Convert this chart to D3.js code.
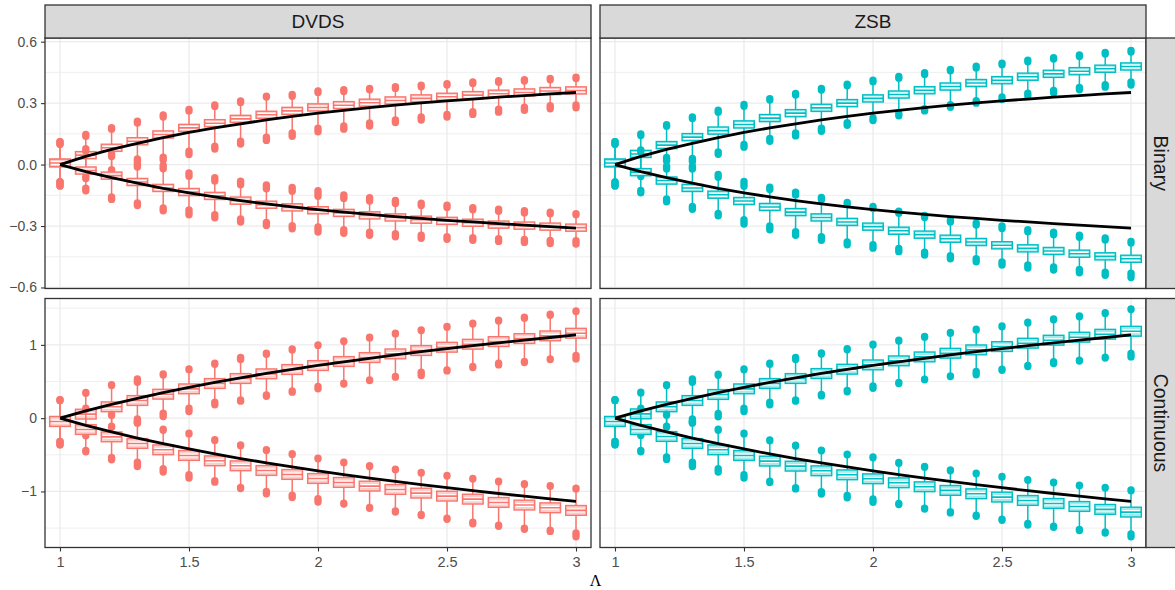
<!DOCTYPE html>
<html><head><meta charset="utf-8">
<script src="https://cdn.jsdelivr.net/npm/d3@7"></script>
<style>body{margin:0;background:#fff}svg{display:block}</style>
</head><body>
<svg id="chart" width="1175" height="590"></svg>
<script>
// ---------------- data ----------------
const lambdas = [1.0,1.1,1.2,1.3,1.4,1.5,1.6,1.7,1.8,1.9,2.0,2.1,2.2,2.3,2.4,2.5,2.6,2.7,2.8,2.9,3.0];
const methods = ["DVDS","ZSB"];
const outcomes = ["Binary","Continuous"];
const methodColors = ["#F8766D","#00BFC4"];
const xTicks = [1,1.5,2,2.5,3];
const xTickLabels = ["1","1.5","2","2.5","3"];
const yTicksBinary = [-0.6,-0.3,0,0.3,0.6];
const yTickLabelsBinary = ["\u22120.6","\u22120.3","0.0","0.3","0.6"];
const yMinorBinary = [-0.45,-0.15,0.15,0.45];
const yTicksContinuous = [-1,0,1];
const yTickLabelsContinuous = ["\u22121","0","1"];
const yMinorContinuous = [-1.5,-0.5,0.5,1.5];
const xAxisTitle = "\u039B";

// true bound curves (black lines)
const trueBinaryUpper = [0,0.040,0.074,0.104,0.132,0.157,0.179,0.199,0.218,0.235,0.251,0.265,0.278,0.290,0.301,0.311,0.320,0.329,0.337,0.345,0.352];
const trueBinaryLower = [0,-0.034,-0.064,-0.091,-0.116,-0.138,-0.158,-0.176,-0.192,-0.207,-0.220,-0.232,-0.243,-0.254,-0.263,-0.272,-0.280,-0.288,-0.296,-0.303,-0.310];
const trueContUpper = [0,0.099,0.188,0.271,0.348,0.420,0.488,0.551,0.610,0.666,0.719,0.769,0.817,0.863,0.907,0.949,0.989,1.028,1.065,1.101,1.136];
const trueContLower = [0,-0.099,-0.188,-0.271,-0.348,-0.420,-0.488,-0.551,-0.610,-0.666,-0.719,-0.769,-0.817,-0.863,-0.907,-0.949,-0.989,-1.028,-1.065,-1.101,-1.136];

// boxes: [lowest outlier, lower whisker end, q1, median, q3, upper whisker end, highest outlier]
const dvdsBinaryUpper = [
[-0.104,-0.083,-0.008,0.008,0.024,0.099,0.112],[-0.068,-0.058,0.031,0.046,0.061,0.138,0.147],
[-0.038,-0.025,0.067,0.082,0.097,0.172,0.180],[-0.012,0.002,0.099,0.114,0.129,0.203,0.212],
[0.022,0.036,0.132,0.147,0.162,0.232,0.242],[0.049,0.065,0.164,0.179,0.194,0.262,0.269],
[0.076,0.090,0.187,0.202,0.217,0.284,0.291],[0.100,0.114,0.208,0.223,0.238,0.303,0.311],
[0.118,0.134,0.228,0.243,0.258,0.330,0.334],[0.138,0.155,0.247,0.262,0.277,0.333,0.342],
[0.160,0.178,0.264,0.279,0.294,0.352,0.360],[0.173,0.188,0.275,0.290,0.305,0.357,0.365],
[0.188,0.203,0.287,0.302,0.317,0.365,0.372],[0.205,0.218,0.298,0.313,0.328,0.372,0.380],
[0.218,0.232,0.308,0.323,0.338,0.380,0.388],[0.232,0.245,0.316,0.331,0.346,0.388,0.395],
[0.245,0.258,0.324,0.339,0.354,0.396,0.404],[0.256,0.270,0.331,0.346,0.361,0.402,0.409],
[0.265,0.280,0.337,0.352,0.367,0.408,0.415],[0.272,0.287,0.344,0.359,0.374,0.414,0.420],
[0.277,0.291,0.347,0.362,0.377,0.420,0.427]];
const dvdsBinaryLower = [
[-0.104,-0.083,-0.008,0.008,0.024,0.099,0.112],[-0.128,-0.115,-0.044,-0.029,-0.014,0.066,0.078],
[-0.170,-0.158,-0.069,-0.054,-0.039,0.040,0.053],[-0.200,-0.187,-0.100,-0.085,-0.070,0.012,0.028],
[-0.226,-0.212,-0.129,-0.114,-0.099,-0.020,-0.004],[-0.245,-0.222,-0.149,-0.134,-0.119,-0.057,-0.041],
[-0.260,-0.245,-0.168,-0.153,-0.138,-0.080,-0.064],[-0.280,-0.265,-0.191,-0.176,-0.161,-0.098,-0.081],
[-0.298,-0.282,-0.211,-0.196,-0.181,-0.118,-0.100],[-0.313,-0.298,-0.224,-0.209,-0.194,-0.130,-0.112],
[-0.329,-0.305,-0.238,-0.223,-0.208,-0.155,-0.127],[-0.335,-0.318,-0.251,-0.236,-0.221,-0.165,-0.148],
[-0.345,-0.330,-0.263,-0.248,-0.233,-0.178,-0.162],[-0.352,-0.338,-0.273,-0.258,-0.243,-0.190,-0.175],
[-0.360,-0.345,-0.284,-0.269,-0.254,-0.200,-0.188],[-0.365,-0.352,-0.290,-0.275,-0.260,-0.210,-0.198],
[-0.370,-0.357,-0.299,-0.284,-0.269,-0.220,-0.210],[-0.375,-0.362,-0.308,-0.293,-0.278,-0.228,-0.218],
[-0.380,-0.366,-0.313,-0.298,-0.283,-0.236,-0.225],[-0.385,-0.370,-0.318,-0.303,-0.288,-0.240,-0.232],
[-0.388,-0.372,-0.323,-0.308,-0.293,-0.245,-0.240]];
const zsbBinaryUpper = [
[-0.104,-0.085,-0.008,0.008,0.024,0.099,0.112],[-0.058,-0.046,0.037,0.052,0.067,0.142,0.150],
[-0.022,-0.008,0.080,0.095,0.110,0.187,0.195],[0.015,0.030,0.119,0.134,0.149,0.225,0.233],
[0.050,0.062,0.151,0.166,0.181,0.256,0.265],[0.085,0.098,0.181,0.196,0.211,0.285,0.293],
[0.114,0.128,0.212,0.227,0.242,0.315,0.322],[0.140,0.155,0.236,0.251,0.266,0.340,0.347],
[0.163,0.178,0.262,0.277,0.292,0.364,0.372],[0.192,0.205,0.285,0.300,0.315,0.385,0.392],
[0.215,0.228,0.308,0.323,0.338,0.405,0.412],[0.238,0.250,0.327,0.342,0.357,0.422,0.430],
[0.262,0.273,0.348,0.363,0.378,0.440,0.448],[0.280,0.292,0.366,0.381,0.396,0.458,0.465],
[0.300,0.312,0.383,0.398,0.413,0.472,0.480],[0.318,0.330,0.397,0.412,0.427,0.488,0.495],
[0.335,0.348,0.414,0.429,0.444,0.502,0.510],[0.350,0.362,0.428,0.443,0.458,0.515,0.522],
[0.365,0.376,0.441,0.456,0.471,0.528,0.535],[0.378,0.390,0.453,0.468,0.483,0.540,0.548],
[0.388,0.404,0.464,0.479,0.494,0.550,0.557]];
const zsbBinaryLower = [
[-0.104,-0.085,-0.008,0.008,0.024,0.099,0.112],[-0.138,-0.126,-0.052,-0.037,-0.022,0.060,0.072],
[-0.182,-0.168,-0.093,-0.078,-0.063,0.018,0.035],[-0.218,-0.205,-0.129,-0.114,-0.099,-0.022,-0.008],
[-0.250,-0.238,-0.162,-0.147,-0.132,-0.062,-0.048],[-0.290,-0.269,-0.193,-0.178,-0.163,-0.106,-0.082],
[-0.318,-0.300,-0.222,-0.207,-0.192,-0.122,-0.110],[-0.345,-0.328,-0.247,-0.232,-0.217,-0.148,-0.135],
[-0.370,-0.352,-0.273,-0.258,-0.243,-0.172,-0.160],[-0.392,-0.378,-0.295,-0.280,-0.265,-0.195,-0.185],
[-0.408,-0.391,-0.318,-0.303,-0.288,-0.215,-0.205],[-0.425,-0.410,-0.338,-0.323,-0.308,-0.238,-0.228],
[-0.442,-0.428,-0.357,-0.342,-0.327,-0.258,-0.248],[-0.460,-0.445,-0.377,-0.362,-0.347,-0.280,-0.270],
[-0.475,-0.460,-0.393,-0.378,-0.363,-0.295,-0.285],[-0.490,-0.475,-0.409,-0.394,-0.379,-0.312,-0.300],
[-0.505,-0.490,-0.424,-0.409,-0.394,-0.328,-0.318],[-0.515,-0.500,-0.437,-0.422,-0.407,-0.342,-0.330],
[-0.528,-0.512,-0.450,-0.435,-0.420,-0.355,-0.345],[-0.540,-0.525,-0.463,-0.448,-0.433,-0.368,-0.358],
[-0.551,-0.530,-0.475,-0.460,-0.445,-0.383,-0.375]];
const dvdsContinuousUpper = [
[-0.364,-0.318,-0.105,-0.045,0.015,0.240,0.252],[-0.240,-0.220,-0.005,0.055,0.115,0.340,0.350],
[-0.125,-0.110,0.095,0.155,0.215,0.445,0.455],[-0.068,-0.010,0.181,0.241,0.301,0.490,0.536],
[0.023,0.068,0.267,0.327,0.387,0.590,0.605],[0.091,0.136,0.340,0.400,0.460,0.660,0.673],
[0.182,0.218,0.413,0.473,0.533,0.735,0.750],[0.232,0.250,0.481,0.541,0.601,0.800,0.827],
[0.300,0.318,0.545,0.605,0.665,0.872,0.886],[0.355,0.373,0.604,0.664,0.724,0.930,0.945],
[0.400,0.432,0.658,0.718,0.778,0.990,1.000],[0.465,0.477,0.713,0.773,0.833,1.045,1.055],
[0.515,0.523,0.767,0.827,0.887,1.095,1.105],[0.560,0.568,0.817,0.877,0.937,1.150,1.159],
[0.582,0.627,0.863,0.923,0.983,1.195,1.205],[0.645,0.659,0.908,0.968,1.028,1.240,1.250],
[0.690,0.705,0.949,1.009,1.069,1.285,1.295],[0.727,0.750,0.985,1.045,1.105,1.325,1.336],
[0.760,0.773,1.026,1.086,1.146,1.365,1.377],[0.800,0.809,1.063,1.123,1.183,1.405,1.418],
[0.809,0.855,1.099,1.159,1.219,1.455,1.464]];
const dvdsContinuousLower = [
[-0.364,-0.318,-0.105,-0.045,0.015,0.240,0.252],[-0.460,-0.440,-0.215,-0.155,-0.095,0.120,0.136],
[-0.568,-0.536,-0.315,-0.255,-0.195,0.035,0.050],[-0.659,-0.600,-0.405,-0.345,-0.285,-0.060,-0.045],
[-0.736,-0.690,-0.492,-0.432,-0.372,-0.165,-0.150],[-0.818,-0.773,-0.569,-0.509,-0.449,-0.215,-0.205],
[-0.873,-0.855,-0.642,-0.582,-0.522,-0.305,-0.295],[-0.960,-0.945,-0.710,-0.650,-0.590,-0.375,-0.364],
[-1.032,-1.000,-0.774,-0.714,-0.654,-0.440,-0.432],[-1.082,-1.050,-0.828,-0.768,-0.708,-0.495,-0.486],
[-1.145,-1.100,-0.883,-0.823,-0.763,-0.555,-0.545],[-1.173,-1.160,-0.937,-0.877,-0.817,-0.610,-0.600],
[-1.230,-1.218,-0.987,-0.927,-0.867,-0.660,-0.650],[-1.280,-1.265,-1.033,-0.973,-0.913,-0.705,-0.695],
[-1.330,-1.315,-1.083,-1.023,-0.963,-0.750,-0.741],[-1.380,-1.365,-1.124,-1.064,-1.004,-0.790,-0.782],
[-1.440,-1.420,-1.165,-1.105,-1.045,-0.830,-0.823],[-1.475,-1.460,-1.210,-1.150,-1.090,-0.868,-0.859],
[-1.515,-1.500,-1.246,-1.186,-1.126,-0.905,-0.895],[-1.545,-1.530,-1.283,-1.223,-1.163,-0.930,-0.923],
[-1.618,-1.568,-1.319,-1.259,-1.199,-0.965,-0.955]];
const zsbContinuousUpper = [
[-0.364,-0.318,-0.105,-0.045,0.015,0.240,0.252],[-0.236,-0.216,-0.001,0.059,0.119,0.344,0.354],
[-0.125,-0.110,0.095,0.155,0.215,0.445,0.455],[-0.068,-0.010,0.181,0.241,0.301,0.490,0.536],
[0.019,0.064,0.263,0.323,0.383,0.586,0.601],[0.091,0.136,0.340,0.400,0.460,0.660,0.673],
[0.182,0.218,0.413,0.473,0.533,0.735,0.750],[0.232,0.250,0.481,0.541,0.601,0.800,0.827],
[0.304,0.322,0.549,0.609,0.669,0.876,0.890],[0.359,0.377,0.608,0.668,0.728,0.934,0.949],
[0.409,0.441,0.667,0.727,0.787,0.999,1.009],[0.474,0.486,0.722,0.782,0.842,1.054,1.064],
[0.524,0.532,0.776,0.836,0.896,1.104,1.114],[0.569,0.577,0.826,0.886,0.946,1.159,1.168],
[0.591,0.636,0.872,0.932,0.992,1.204,1.214],[0.654,0.668,0.917,0.977,1.037,1.249,1.259],
[0.704,0.719,0.963,1.023,1.083,1.299,1.309],[0.746,0.769,1.004,1.064,1.124,1.344,1.355],
[0.779,0.792,1.045,1.105,1.165,1.384,1.396],[0.822,0.831,1.085,1.145,1.205,1.427,1.440],
[0.836,0.882,1.126,1.186,1.246,1.482,1.491]];
const zsbContinuousLower = [
[-0.364,-0.318,-0.105,-0.045,0.015,0.240,0.252],[-0.460,-0.440,-0.215,-0.155,-0.095,0.120,0.136],
[-0.563,-0.531,-0.310,-0.250,-0.190,0.040,0.055],[-0.659,-0.600,-0.405,-0.345,-0.285,-0.060,-0.045],
[-0.736,-0.690,-0.492,-0.432,-0.372,-0.165,-0.150],[-0.818,-0.773,-0.569,-0.509,-0.449,-0.215,-0.205],
[-0.877,-0.859,-0.646,-0.586,-0.526,-0.309,-0.299],[-0.965,-0.950,-0.715,-0.655,-0.595,-0.380,-0.369],
[-1.036,-1.004,-0.778,-0.718,-0.658,-0.444,-0.436],[-1.087,-1.055,-0.833,-0.773,-0.713,-0.500,-0.491],
[-1.149,-1.104,-0.887,-0.827,-0.767,-0.540,-0.530],[-1.178,-1.165,-0.942,-0.882,-0.822,-0.615,-0.605],
[-1.239,-1.227,-0.996,-0.936,-0.876,-0.669,-0.659],[-1.293,-1.278,-1.046,-0.986,-0.926,-0.718,-0.708],
[-1.339,-1.324,-1.092,-1.032,-0.972,-0.759,-0.750],[-1.393,-1.378,-1.137,-1.077,-1.017,-0.803,-0.795],
[-1.458,-1.438,-1.183,-1.123,-1.063,-0.848,-0.841],[-1.489,-1.474,-1.224,-1.164,-1.104,-0.882,-0.873],
[-1.534,-1.519,-1.265,-1.205,-1.145,-0.924,-0.914],[-1.567,-1.552,-1.305,-1.245,-1.185,-0.952,-0.945],
[-1.618,-1.580,-1.342,-1.282,-1.222,-0.990,-0.978]];

// ---------------- layout ----------------
const FONT = "'Liberation Sans', Arial, Helvetica, sans-serif";
const colX = [[45, 591], [600, 1146]];
const rowY = [[38, 288.5], [298.5, 547.5]];
const xDomain = [0.9419, 3.0581];
const yDomains = [[-0.605, 0.618], [-1.765, 1.633]];
const boxes = {
  DVDS: {Binary: [dvdsBinaryUpper, dvdsBinaryLower], Continuous: [dvdsContinuousUpper, dvdsContinuousLower]},
  ZSB: {Binary: [zsbBinaryUpper, zsbBinaryLower], Continuous: [zsbContinuousUpper, zsbContinuousLower]}
};
const trueLines = {Binary: [trueBinaryUpper, trueBinaryLower], Continuous: [trueContUpper, trueContLower]};

const svg = d3.select("#chart");
svg.append("rect").attr("width", 1175).attr("height", 590).attr("fill", "#fff");

outcomes.forEach((outcome, r) => {
  const y = d3.scaleLinear().domain(yDomains[r]).range([rowY[r][1], rowY[r][0]]);
  const majY = r === 0 ? yTicksBinary : yTicksContinuous;
  const majYLab = r === 0 ? yTickLabelsBinary : yTickLabelsContinuous;
  const minY = r === 0 ? yMinorBinary : yMinorContinuous;

  methods.forEach((method, c) => {
    const x = d3.scaleLinear().domain(xDomain).range(colX[c]);
    const color = methodColors[c];
    const [x0, x1] = colX[c], [y0, y1] = rowY[r];
    const clipId = `clip-${r}-${c}`;
    svg.append("clipPath").attr("id", clipId).append("rect")
      .attr("x", x0).attr("y", y0).attr("width", x1 - x0).attr("height", y1 - y0);
    const g = svg.append("g").attr("clip-path", `url(#${clipId})`);

    // grid
    g.selectAll(".ymin").data(minY).join("line")
      .attr("x1", x0).attr("x2", x1).attr("y1", d => y(d)).attr("y2", d => y(d))
      .attr("stroke", "#EBEBEB").attr("stroke-width", 0.8);
    g.selectAll(".ymaj").data(majY).join("line")
      .attr("x1", x0).attr("x2", x1).attr("y1", d => y(d)).attr("y2", d => y(d))
      .attr("stroke", "#EBEBEB").attr("stroke-width", 1.3);
    g.selectAll(".xmaj").data(xTicks).join("line")
      .attr("y1", y0).attr("y2", y1).attr("x1", d => x(d)).attr("x2", d => x(d))
      .attr("stroke", "#EBEBEB").attr("stroke-width", 1.3);

    // boxplots
    const bw = x(1.04) - x(0.96);
    boxes[method][outcome].forEach(series => {
      const items = series.map((d, i) => ({l: lambdas[i], v: d}));
      const bg = g.append("g");
      const sel = bg.selectAll("g").data(items).join("g");
      sel.append("line").attr("x1", d => x(d.l)).attr("x2", d => x(d.l))
        .attr("y1", d => y(d.v[4])).attr("y2", d => y(d.v[5]))
        .attr("stroke", color).attr("stroke-width", 1.5);
      sel.append("line").attr("x1", d => x(d.l)).attr("x2", d => x(d.l))
        .attr("y1", d => y(d.v[2])).attr("y2", d => y(d.v[1]))
        .attr("stroke", color).attr("stroke-width", 1.5);
      sel.append("line").attr("x1", d => x(d.l)).attr("x2", d => x(d.l))
        .attr("y1", d => y(d.v[5])).attr("y2", d => y(d.v[6]))
        .attr("stroke", color).attr("stroke-width", 7.4).attr("stroke-linecap", "round");
      sel.append("line").attr("x1", d => x(d.l)).attr("x2", d => x(d.l))
        .attr("y1", d => y(d.v[1])).attr("y2", d => y(d.v[0]))
        .attr("stroke", color).attr("stroke-width", 7.4).attr("stroke-linecap", "round");
      sel.append("rect").attr("x", d => x(d.l) - bw / 2).attr("width", bw)
        .attr("y", d => y(d.v[4]) - 0.5).attr("height", d => y(d.v[2]) - y(d.v[4]) + 1)
        .attr("fill", d3.interpolateRgb("#ffffff", color)(0.35))
        .attr("stroke", color).attr("stroke-width", 1.4);
      sel.append("line").attr("x1", d => x(d.l) - bw / 2 + 1.5).attr("x2", d => x(d.l) + bw / 2 - 1.5)
        .attr("y1", d => y(d.v[3])).attr("y2", d => y(d.v[3]))
        .attr("stroke", "#fff").attr("stroke-width", 4);
      sel.append("line").attr("x1", d => x(d.l) - bw / 2).attr("x2", d => x(d.l) + bw / 2)
        .attr("y1", d => y(d.v[3])).attr("y2", d => y(d.v[3]))
        .attr("stroke", color).attr("stroke-width", 1.6);
    });

    // true bounds
    const line = d3.line().x((d, i) => x(lambdas[i])).y(d => y(d)).curve(d3.curveLinear);
    trueLines[outcome].forEach(vals => {
      g.append("path").datum(vals).attr("d", line)
        .attr("fill", "none").attr("stroke", "#000").attr("stroke-width", 2.8)
        .attr("stroke-linejoin", "round");
    });

    // border
    svg.append("rect").attr("x", x0).attr("y", y0).attr("width", x1 - x0).attr("height", y1 - y0)
      .attr("fill", "none").attr("stroke", "#333333").attr("stroke-width", 1.3);

    // axes
    if (c === 0) {
      const ax = svg.append("g").attr("transform", `translate(${x0},0)`)
        .call(d3.axisLeft(y).tickValues(majY).tickFormat((d, i) => majYLab[i]).tickSize(4).tickPadding(4));
      ax.select(".domain").remove();
      ax.selectAll(".tick line").attr("stroke", "#333333").attr("stroke-width", 1.1);
      ax.selectAll("text").attr("fill", "#4D4D4D").style("font-family", FONT).style("font-size", "14px");
    }
    if (r === 1) {
      const ax = svg.append("g").attr("transform", `translate(0,${y1})`)
        .call(d3.axisBottom(x).tickValues(xTicks).tickFormat((d, i) => xTickLabels[i]).tickSize(4).tickPadding(5));
      ax.select(".domain").remove();
      ax.selectAll(".tick line").attr("stroke", "#333333").attr("stroke-width", 1.1);
      ax.selectAll("text").attr("fill", "#4D4D4D").style("font-family", FONT).style("font-size", "14.5px");
    }
    if (r === 0) {
      svg.append("rect").attr("x", x0).attr("y", 5).attr("width", x1 - x0).attr("height", y0 - 5)
        .attr("fill", "#D9D9D9").attr("stroke", "#333333").attr("stroke-width", 1.3);
      svg.append("text").attr("x", (x0 + x1) / 2).attr("y", (5 + y0) / 2).attr("dy", "0.36em")
        .attr("text-anchor", "middle").attr("fill", "#1A1A1A")
        .style("font-family", FONT).style("font-size", "19px").text(method);
    }
    if (c === 1) {
      svg.append("rect").attr("x", x1).attr("y", y0).attr("width", 40).attr("height", y1 - y0)
        .attr("fill", "#D9D9D9").attr("stroke", "#333333").attr("stroke-width", 1.3);
      svg.append("text").attr("transform", `translate(${x1 + 15.5},${(y0 + y1) / 2}) rotate(90)`)
        .attr("dy", "0.36em").attr("text-anchor", "middle").attr("fill", "#1A1A1A")
        .style("font-family", FONT).style("font-size", "19.5px").text(outcome);
    }
  });
});

svg.append("text").attr("x", (45 + 1146) / 2).attr("y", 586).attr("text-anchor", "middle")
  .attr("fill", "#000").style("font-family", "'Liberation Serif', 'DejaVu Serif', serif")
  .style("font-size", "16px").text(xAxisTitle);
</script>
</body></html>
